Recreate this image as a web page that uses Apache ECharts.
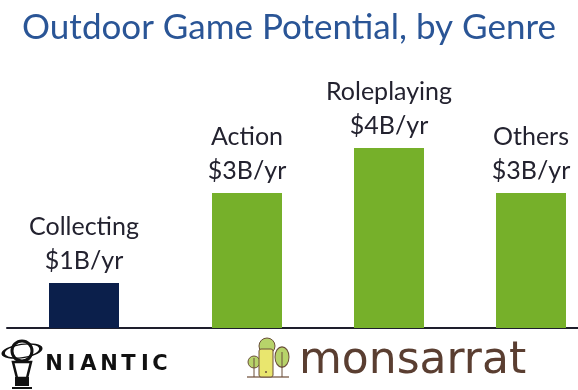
<!DOCTYPE html>
<html>
<head>
<meta charset="utf-8">
<script src="https://cdn.jsdelivr.net/npm/echarts@6/dist/echarts.min.js"></script>
<style>
html,body{margin:0;padding:0;background:#fff;}
#main{width:578px;height:390px;}
</style>
</head>
<body>
<div id="main"></div>
<script>
// ---- data ----
const titleText = 'Outdoor Game Potential, by Genre';
const categories = ['Collecting', 'Action', 'Roleplaying', 'Others'];
const values = [1, 3, 4, 3];            // $B per year
const highlighted = ['Collecting'];     // drawn in navy
// ---------------

const NAVY = '#0b1f4b';
const GREEN = '#76b02a';
const LABEL = '#23222f';
const FONT = 'Lato, "Noto Sans", sans-serif';

const groupA = categories.slice(0, 1);
const valsA = values.slice(0, 1);
const groupB = categories.slice(1);
const valsB = values.slice(1);

function barData(cats, vals) {
  return vals.map((v, i) => ({
    value: v,
    itemStyle: { color: highlighted.includes(cats[i]) ? NAVY : GREEN }
  }));
}

const labelCfg = {
  show: true,
  position: 'top',
  distance: 5,
  formatter: p => p.name + '\n$' + p.value + 'B/yr',
  color: LABEL,
  fontFamily: FONT,
  fontSize: 25,
  lineHeight: 34,
  align: 'center'
};

const hiddenCat = (cats, gi, bg) => ({
  type: 'category', gridIndex: gi, data: cats, boundaryGap: bg,
  axisLine: { show: false }, axisTick: { show: false }, axisLabel: { show: false }
});
const hiddenVal = gi => ({
  type: 'value', gridIndex: gi, min: 0, max: 5,
  axisLine: { show: false }, axisTick: { show: false }, axisLabel: { show: false },
  splitLine: { show: false }
});

const niantic = [['N', 54], ['I', 71.5], ['A', 88.5], ['N', 109], ['T', 128.5], ['I', 145], ['C', 160]];

const chart = echarts.init(document.getElementById('main'), null, { renderer: 'canvas' });
chart.setOption({
  animation: false,
  backgroundColor: '#ffffff',
  title: {
    text: titleText,
    left: 'center',
    top: 5,
    textStyle: { color: '#2a5596', fontFamily: FONT, fontSize: 35, fontWeight: 'normal' }
  },
  grid: [
    { left: 7, width: 154, top: 103, bottom: 62 },
    { left: 247, right: 47, top: 103, bottom: 62 },
    { left: 7, right: 0, top: 103, bottom: 62 }
  ],
  xAxis: [
    hiddenCat(groupA, 0, true),
    hiddenCat(groupB, 1, false),
    {
      type: 'value', gridIndex: 2, min: 0, max: 1,
      axisLine: { show: true, lineStyle: { color: '#1e1e2c', width: 2 } },
      axisTick: { show: false }, axisLabel: { show: false }, splitLine: { show: false }
    }
  ],
  yAxis: [hiddenVal(0), hiddenVal(1), hiddenVal(2)],
  series: [
    { type: 'bar', xAxisIndex: 0, yAxisIndex: 0, barWidth: 70, clip: false, data: barData(groupA, valsA), label: labelCfg },
    { type: 'bar', xAxisIndex: 1, yAxisIndex: 1, barWidth: 70, clip: false, data: barData(groupB, valsB), label: labelCfg }
  ],
  graphic: [
    // Niantic logo
    { type: 'circle', shape: { cx: 22, cy: 351, r: 10 }, style: { fill: 'none', stroke: '#111', lineWidth: 3 } },
    { type: 'circle', x: 22, y: 351, scaleY: 0.35, rotation: 0.15, shape: { cx: 0, cy: 0, r: 19 }, style: { fill: 'none', stroke: '#111', lineWidth: 3.5 } },
    { type: 'polygon', shape: { points: [[13, 362], [31, 362], [27, 378], [17, 378]] }, style: { fill: '#fff', stroke: '#111', lineWidth: 2.5 } },
    { type: 'rect', shape: { x: 15, y: 377, width: 14, height: 9 }, style: { fill: '#111' } },
    { type: 'line', shape: { x1: 12, y1: 388, x2: 32, y2: 388 }, style: { stroke: '#111', lineWidth: 2 } }
  ].concat(niantic.map(([ch, cx]) => ({
    type: 'text', x: cx, y: 365,
    style: { text: ch, fill: '#111', font: 'bold 21px "DejaVu Sans", sans-serif', textAlign: 'center', textVerticalAlign: 'middle', textBaseline: 'middle' }
  }))).concat([
    // Monsarrat logo
    { type: 'line', shape: { x1: 247, y1: 377, x2: 289, y2: 377 }, style: { stroke: '#8a6f5e', lineWidth: 1.5 } },
    { type: 'circle', x: 282, y: 357, scaleY: 1.45, shape: { cx: 0, cy: 0, r: 7 }, style: { fill: '#b7d36a', stroke: '#6b4f3a', lineWidth: 1 } },
    { type: 'line', shape: { x1: 282, y1: 352, x2: 282, y2: 377 }, style: { stroke: '#6b4f3a', lineWidth: 1 } },
    { type: 'circle', shape: { cx: 267, cy: 346, r: 8 }, style: { fill: '#b7d36a', stroke: '#6b4f3a', lineWidth: 1 } },
    { type: 'circle', shape: { cx: 254, cy: 362, r: 6 }, style: { fill: '#b7d36a', stroke: '#6b4f3a', lineWidth: 1 } },
    { type: 'line', shape: { x1: 254, y1: 358, x2: 254, y2: 377 }, style: { stroke: '#6b4f3a', lineWidth: 1 } },
    { type: 'rect', shape: { x: 259, y: 349, width: 14, height: 28, r: 2 }, style: { fill: '#e9e66e', stroke: '#6b4f3a', lineWidth: 1 } },
    { type: 'circle', shape: { cx: 266, cy: 372, r: 1 }, style: { fill: '#6b4f3a' } },
    { type: 'text', x: 299, y: 362, style: { text: 'monsarrat', fill: '#5a3e31', font: '44px "DejaVu Sans", sans-serif', textVerticalAlign: 'middle', textBaseline: 'middle' } }
  ])
});
</script>
</body>
</html>
